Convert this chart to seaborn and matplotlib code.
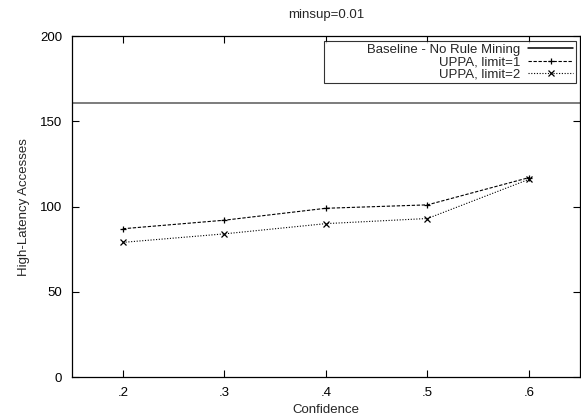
import numpy as np
import pandas as pd
import matplotlib
matplotlib.use("Agg")
import matplotlib.pyplot as plt
import seaborn as sns

# values
confidence = [0.2, 0.3, 0.4, 0.5, 0.6]
conf_labels = [".2", ".3", ".4", ".5", ".6"]
uppa_limit1 = [87, 92, 99, 101, 117]
uppa_limit2 = [79, 84, 90, 93, 116]
baseline = 161

sns.set_theme(style="ticks")
plt.rcParams['font.family'] = ['Liberation Sans', 'DejaVu Sans']
plt.rcParams['font.size'] = 9.5

fig = plt.figure(figsize=(5.81, 4.19), dpi=100)
ax = fig.add_axes([0.124, 0.1, 0.874, 0.814])

ax.axhline(baseline, color='0.35', lw=1.1, label=' ' * 11 + 'Baseline - No Rule Mining')
sns.lineplot(x=confidence, y=uppa_limit1, ax=ax, color='black', lw=0.8,
             linestyle=(0, (3, 1.5)), marker='+', markersize=5, mew=0.9,
             mec='black', mfc='black', label='UPPA, limit=1')
sns.lineplot(x=confidence, y=uppa_limit2, ax=ax, color='black', lw=0.8,
             linestyle=(0, (1, 1.5)), marker='x', markersize=3.8, mew=0.9,
             mec='black', mfc='black', label='UPPA, limit=2')

ax.set_xlim(0.15, 0.65)
ax.set_ylim(0, 200)
ax.set_xticks(confidence)
ax.set_xticklabels(conf_labels)
ax.set_yticks([0, 50, 100, 150, 200])
ax.tick_params(direction='in', length=5, width=0.8, top=True, right=True,
               labelsize=9.5, colors='black', pad=7)
for s in ax.spines.values():
    s.set_color('black')
    s.set_linewidth(0.9)

ax.set_xlabel('Confidence', fontsize=9.5, labelpad=4)
ax.set_ylabel('High-Latency Accesses', fontsize=9.5, labelpad=7)
ax.set_title('minsup=0.01', fontsize=9.5, pad=13)

leg = ax.legend(loc='upper right', bbox_to_anchor=(0.992, 0.986), markerfirst=False,
                frameon=True, fancybox=False, edgecolor='black', fontsize=9.5,
                handlelength=3.4, handletextpad=0.6, borderpad=0.2,
                labelspacing=0.02, borderaxespad=0)
leg.get_frame().set_linewidth(0.8)
# right-align the labels like gnuplot's key
for col in leg._legend_handle_box.get_children():
    col.align = 'right'
leg.legend_handles[0].set_color('black')

fig.savefig('out.png', dpi=100)
